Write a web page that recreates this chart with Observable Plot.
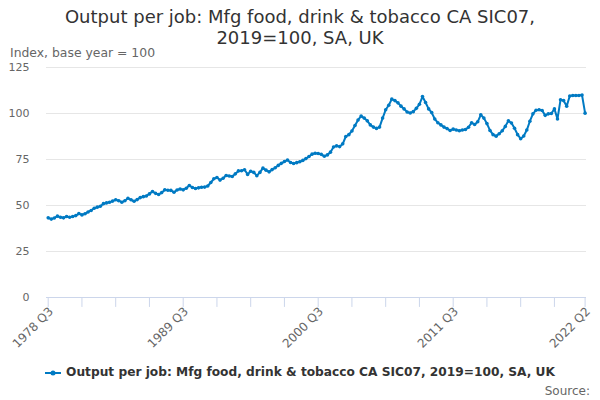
<!DOCTYPE html>
<html>
<head>
<meta charset="utf-8">
<script src="https://cdn.jsdelivr.net/npm/d3@7"></script>
<script src="https://cdn.jsdelivr.net/npm/@observablehq/plot@0.6"></script>
<style>
  html, body { margin: 0; padding: 0; background: #fff; }
  #wrap { position: relative; width: 600px; height: 400px; font-family: "DejaVu Sans", sans-serif; overflow: hidden; }
  #title { position: absolute; top: 6px; left: 0; width: 600px; text-align: center; font-size: 18px; line-height: 21px; color: #333; }
  #ylab { position: absolute; top: 45px; left: 10px; font-size: 12.4px; color: #666; }
  #legend { position: absolute; top: 365px; left: 0; width: 600px; text-align: center; font-size: 12.2px; font-weight: bold; color: #333; }
  #legend svg { vertical-align: middle; margin-right: 5px; }
  #source { position: absolute; top: 384px; right: 10px; font-size: 12px; color: #666; }
  #chart { position: absolute; top: 0; left: 0; }
</style>
</head>
<body>
<div id="wrap">
  <div id="chart"></div>
  <div id="title">Output per job: Mfg food, drink &amp; tobacco CA SIC07,<br>2019=100, SA, UK</div>
  <div id="ylab">Index, base year = 100</div>
  <div id="legend"><svg width="16" height="10"><line x1="0" y1="5" x2="16" y2="5" stroke="#007ac3" stroke-width="2"/><circle cx="8" cy="5" r="2.5" fill="#007ac3"/></svg>Output per job: Mfg food, drink &amp; tobacco CA SIC07, 2019=100, SA, UK</div>
  <div id="source">Source:</div>
</div>
<script>
const startYear = 1978;
const startQuarter = 3;
const values = [
  43.3, 42.6, 43.2, 44.2, 43.6, 43.3, 44.0, 43.6, 44.0, 44.5,
  45.6, 44.9, 45.5, 46.5, 47.3, 48.5, 49.1, 49.6, 51.0, 51.4,
  51.8, 52.4, 53.1, 52.6, 51.8, 52.6, 53.9, 53.1, 52.3, 53.2,
  54.3, 54.8, 55.2, 56.3, 57.6, 56.6, 56.0, 57.0, 58.5, 58.3,
  58.2, 57.2, 58.4, 59.0, 58.5, 59.4, 60.9, 59.8, 59.2, 59.6,
  59.9, 60.0, 60.6, 62.5, 64.5, 65.2, 63.8, 64.8, 66.3, 66.0,
  65.8, 67.2, 68.8, 68.9, 69.4, 66.9, 68.6, 68.0, 66.2, 68.0,
  70.3, 69.2, 68.3, 69.5, 70.5, 71.8, 72.9, 73.9, 74.7, 73.4,
  72.8, 73.3, 73.8, 74.5, 75.5, 76.6, 77.9, 78.4, 78.3, 77.8,
  76.8, 77.5, 79.0, 81.8, 82.4, 82.0, 83.5, 87.5, 88.5, 90.5,
  93.5, 96.5, 98.6, 97.5, 96.0, 93.8, 92.6, 91.9, 92.6, 97.5,
  102.0, 104.5, 107.8, 107.0, 105.8, 104.0, 102.5, 100.8, 100.3, 101.0,
  102.8, 105.0, 109.2, 106.0, 102.5, 100.5, 97.0, 95.0, 93.8, 92.6,
  91.8, 90.8, 91.5, 91.0, 90.6, 91.0, 91.3, 92.5, 95.0, 94.0,
  95.5, 99.3, 97.5, 94.5, 90.8, 88.5, 87.7, 89.0, 90.6, 93.0,
  96.0, 94.8, 92.0, 88.5, 86.3, 87.8, 91.0, 95.8, 99.8, 101.8,
  102.0, 101.6, 99.0, 99.8, 100.0, 102.5, 97.0, 107.5, 107.0, 104.0,
  109.5, 109.8, 109.8, 109.8, 110.0, 100.2
];
const labelTicks = ["1978 Q3", "1989 Q3", "2000 Q3", "2011 Q3", "2022 Q2"];
const yTicks = [0, 25, 50, 75, 100, 125];
const seriesName = "Output per job: Mfg food, drink & tobacco CA SIC07, 2019=100, SA, UK";

const quarters = values.map((_, i) => {
  const q0 = startQuarter - 1 + i;
  return `${startYear + Math.floor(q0 / 4)} Q${(q0 % 4) + 1}`;
});
const data = values.map((v, i) => ({i, q: quarters[i], v}));
const tickIdx = quarters.map((_, i) => i).filter(i => i % 11 === 0 || i === quarters.length - 1);
const labelIdx = labelTicks.map(l => quarters.indexOf(l));
const color = "#007ac3";

const chart = Plot.plot({
  width: 600,
  height: 400,
  marginTop: 67,
  marginBottom: 103,
  marginLeft: 46,
  marginRight: 14,
  style: {fontFamily: "DejaVu Sans, sans-serif", background: "transparent"},
  x: {type: "linear", domain: [0, quarters.length - 1], insetLeft: 1.7, insetRight: 1.4},
  y: {domain: [0, 125]},
  marks: [
    Plot.gridY(yTicks.filter(d => d > 0), {stroke: "#e6e6e6", strokeOpacity: 1}),
    Plot.ruleX(tickIdx, {x: d => d, y1: 0, y2: -5.4, stroke: "#ccd6eb", strokeWidth: 1}),
    Plot.ruleY([0], {stroke: "#ccd6eb"}),
    Plot.axisY(yTicks, {tickSize: 0, tickPadding: 17, fill: "#666", fontSize: 11, label: null}),
    Plot.axisX(labelIdx, {tickSize: 0, tickPadding: 12, dx: 3, tickRotate: -45, tickFormat: i => quarters[i], fill: "#666", fontSize: 12, label: null}),
    Plot.line(data, {x: "i", y: "v", stroke: color, strokeWidth: 2}),
    Plot.dot(data, {x: "i", y: "v", r: 1.8, fill: color, stroke: "none", title: d => `${d.q}: ${d.v}`})
  ]
});
document.getElementById("chart").appendChild(chart);
</script>
</body>
</html>
